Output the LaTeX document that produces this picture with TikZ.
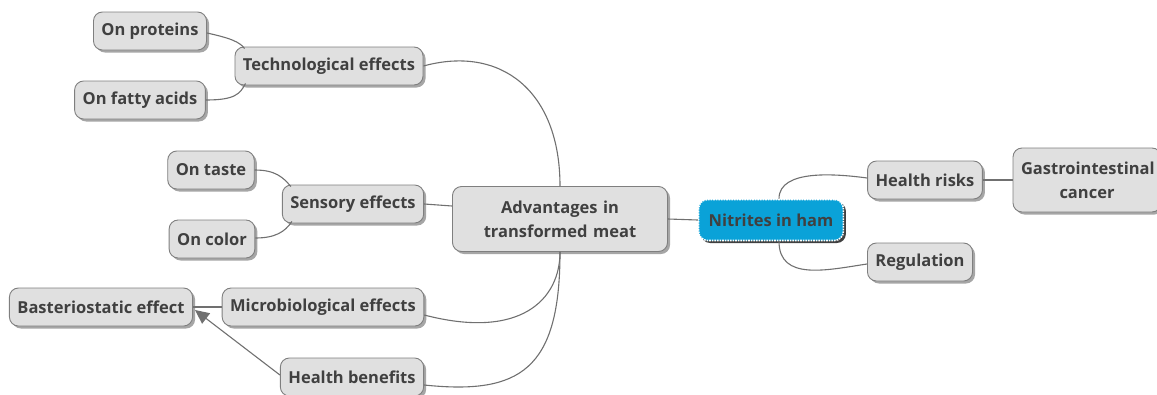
\documentclass[tikz,border=0pt]{standalone}
\usepackage{fontspec}
\setmainfont{Open Sans}
\usetikzlibrary{shadows,arrows.meta}
\definecolor{nodefill}{HTML}{E0E0E0}
\definecolor{nodeline}{HTML}{7F7F7F}
\definecolor{txt}{HTML}{404040}
\definecolor{linec}{HTML}{707070}
\definecolor{cyanfill}{HTML}{0AA2D8}
\tikzset{
  topic/.style={draw=nodeline, fill=nodefill, rounded corners=9pt, line width=0.9pt,
    minimum height=38pt, inner xsep=8pt, text=txt, align=center,
    font=\fontsize{16.5}{24}\selectfont\bfseries,
    drop shadow={shadow xshift=2.5pt, shadow yshift=-2.5pt, fill=black!35, opacity=1}},
  central/.style={fill=cyanfill, draw=white, densely dotted, line width=1.6pt,
    rounded corners=9pt, minimum height=41pt, inner xsep=10pt, text=txt,
    font=\fontsize{16.5}{20}\selectfont\bfseries,
    drop shadow={shadow xshift=2.5pt, shadow yshift=-2.5pt, fill=black!75, opacity=1}},
  conn/.style={draw=linec, line width=1.1pt},
}
\begin{document}
\begin{tikzpicture}[x={(1pt,0)}, y={(0,-1pt)}]
\useasboundingbox (0,0) rectangle (1157,394);
\node[topic] (prot) at (150,31) {On proteins};
\node[topic] (tech) at (329,66) {Technological effects};
\node[topic] (fatty) at (140,100) {On fatty acids};
\node[topic] (taste) at (211,170) {On taste};
\node[topic] (sens) at (353,204) {Sensory effects};
\node[topic] (color) at (212,239) {On color};
\node[topic, minimum height=65pt, text width=199pt] (adv) at (560,219) {Advantages in\\transformed meat};
\node[central] (nit) at (771,220) {Nitrites in ham};
\node[topic] (hr) at (925,180) {Health risks};
\node[topic, minimum height=64pt, text width=132pt] (gi) at (1087,180) {Gastrointestinal\\cancer};
\node[topic] (reg) at (920,262) {Regulation};
\node[topic] (bact) at (101,307) {Basteriostatic effect};
\node[topic] (micro) at (323,307) {Microbiological effects};
\node[topic] (hb) at (352,377) {Health benefits};

\coordinate (techA) at ([xshift=10pt,yshift=-2pt]tech.north west);
\coordinate (techB) at ([xshift=11pt,yshift=2pt]tech.south west);
\coordinate (sensA) at ([xshift=9pt,yshift=-2pt]sens.north west);
\coordinate (sensB) at ([xshift=10pt,yshift=2pt]sens.south west);

\draw[conn] (adv.north) .. controls (560,90) and (500,45) .. (tech.east);
\draw[conn] ([yshift=13pt]adv.west) -- (sens.east);
\draw[conn] (adv.south) .. controls (560,300) and (520,340) .. ([yshift=-8pt]micro.east);
\draw[conn] (adv.south) .. controls (560,370) and (520,395) .. ([yshift=-8pt]hb.east);
\draw[conn] (adv.east) -- (nit.west);
\draw[conn] ([xshift=8pt]nit.north) .. controls ([xshift=8pt,yshift=30pt]nit.north) and ([xshift=-30pt,yshift=6pt]hr.west) .. ([yshift=2pt]hr.west);
\draw[conn] ([xshift=8pt]nit.south) .. controls ([xshift=8pt,yshift=-40pt]nit.south) and ([xshift=-40pt,yshift=-8pt]reg.west) .. ([yshift=-2pt]reg.west);
\draw[conn] (hr.east) -- (gi.west);
\draw[conn] ([yshift=-2pt]prot.east) .. controls (230,38) and (240,42) .. (techA);
\draw[conn] (fatty.east) .. controls (235,100) and (240,94) .. (techB);
\draw[conn] (taste.east) .. controls (275,170) and (283,177) .. (sensA);
\draw[conn] ([yshift=1pt]color.east) .. controls (275,238) and (285,232) .. (sensB);
\draw[conn] (micro.west) -- (bact.east);
\draw[conn, -{Triangle[length=14pt,width=13pt]}] ([yshift=2pt]hb.west) -- ([xshift=2pt,yshift=-3pt]bact.east);
\end{tikzpicture}
\end{document}
